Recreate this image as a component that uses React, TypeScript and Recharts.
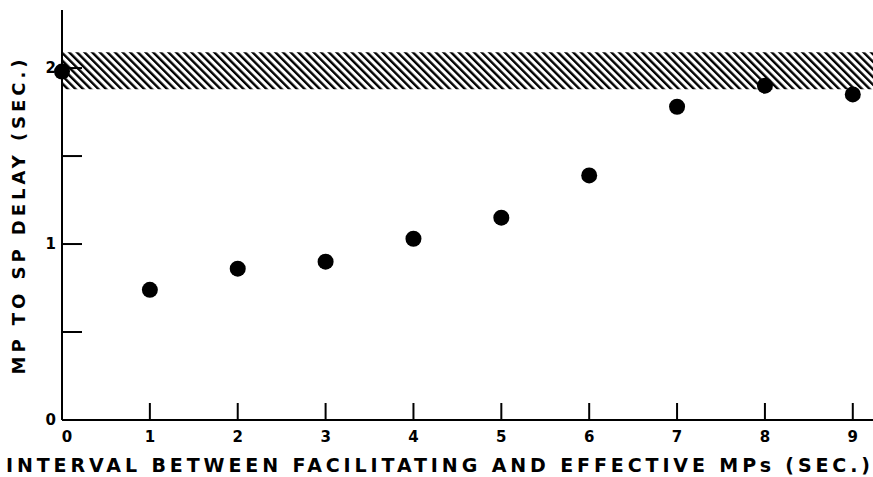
import React from 'react';
import {
    ScatterChart,
    Scatter,
    XAxis,
    YAxis,
    ReferenceArea,
    Label
} from 'recharts';

// interval between facilitating and effective MPs (sec.)
const intervals = [0, 1, 2, 3, 4, 5, 6, 7, 8, 9];
// MP to SP delay (sec.)
const delays = [1.98, 0.74, 0.86, 0.9, 1.03, 1.15, 1.39, 1.78, 1.9, 1.85];

const xTicks = [0, 1, 2, 3, 4, 5, 6, 7, 8, 9];
const yTicks = [0, 0.5, 1, 1.5, 2];
const yLabelled = [0, 1, 2];

// hatched band of control delay
const bandLow = 1.88;
const bandHigh = 2.09;

const FONT = '"DejaVu Sans", "Liberation Sans", Arial, sans-serif';

const data = intervals.map((x, i) => ({ x, y: delays[i] }));

const XTick = (props: any) => {
    const { x, y, payload } = props;
    return (
        <g>
            <line x1={x} y1={y} x2={x} y2={y - 17} stroke="#000" strokeWidth={2} />
            <text
                x={payload.value === 0 ? x + 5 : x}
                y={y + 22}
                textAnchor="middle"
                fontFamily={FONT}
                fontWeight={700}
                fontSize={15}
                fill="#000"
            >
                {payload.value}
            </text>
        </g>
    );
};

const YTick = (props: any) => {
    const { x, y, payload } = props;
    return (
        <g>
            <line x1={x} y1={y} x2={x + 20} y2={y} stroke="#000" strokeWidth={2} />
            {yLabelled.includes(payload.value) && (
                <text
                    x={x - 6}
                    y={y + 5}
                    textAnchor="end"
                    fontFamily={FONT}
                    fontWeight={700}
                    fontSize={15}
                    fill="#000"
                >
                    {payload.value}
                </text>
            )}
        </g>
    );
};

const Dot = (props: any) => {
    const { cx, cy } = props;
    return <circle cx={cx} cy={cy} r={8} fill="#000" />;
};

export default function App() {
    return (
        <div style={{ position: 'absolute', left: 0, top: 0, width: 873, height: 477, background: '#fff' }}>
            <ScatterChart width={873} height={477} margin={{ top: 10, right: 0, left: 0, bottom: 0 }}>
                <defs>
                    <pattern id="hatch" patternUnits="userSpaceOnUse" width={5.4} height={10} patternTransform="rotate(-45)">
                        <line x1={1.2} y1={0} x2={1.2} y2={10} stroke="#000" strokeWidth={2.4} />
                    </pattern>
                </defs>
                <XAxis
                    type="number"
                    dataKey="x"
                    domain={[0, 9.23]}
                    ticks={xTicks}
                    height={57}
                    tickSize={0}
                    tickMargin={0}
                    tickLine={false}
                    axisLine={{ stroke: '#000', strokeWidth: 2 }}
                    tick={<XTick />}
                    interval={0}
                >
                    <Label
                        content={() => (
                            <text
                                x={6}
                                y={472}
                                textLength={864}
                                lengthAdjust="spacing"
                                fontFamily={FONT}
                                fontWeight={700}
                                fontSize={19}
                                fill="#000"
                            >
                                INTERVAL BETWEEN FACILITATING AND EFFECTIVE MPs (SEC.)
                            </text>
                        )}
                    />
                </XAxis>
                <YAxis
                    type="number"
                    dataKey="y"
                    domain={[0, 2.33]}
                    ticks={yTicks}
                    width={62}
                    tickSize={0}
                    tickMargin={0}
                    tickLine={false}
                    axisLine={{ stroke: '#000', strokeWidth: 2 }}
                    tick={<YTick />}
                    interval={0}
                >
                    <Label
                        content={() => (
                            <text
                                x={25}
                                y={217}
                                transform="rotate(-90 25 217)"
                                textAnchor="middle"
                                textLength={315}
                                lengthAdjust="spacing"
                                fontFamily={FONT}
                                fontWeight={700}
                                fontSize={18}
                                fill="#000"
                            >
                                MP TO SP DELAY (SEC.)
                            </text>
                        )}
                    />
                </YAxis>
                <ReferenceArea
                    x1={0}
                    x2={9.23}
                    y1={bandLow}
                    y2={bandHigh}
                    fill="url(#hatch)"
                    fillOpacity={1}
                    stroke="none"
                />
                <Scatter data={data} shape={<Dot />} isAnimationActive={false} />
            </ScatterChart>
        </div>
    );
}
